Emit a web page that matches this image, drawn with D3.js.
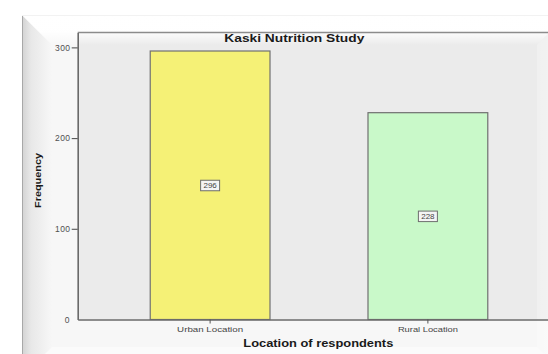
<!DOCTYPE html>
<html>
<head>
<meta charset="utf-8">
<script src="https://cdn.jsdelivr.net/npm/d3@7/dist/d3.min.js"></script>
<style>
  html, body { margin: 0; padding: 0; background: #ffffff; }
  svg { display: block; }
  text { font-family: "Liberation Sans", Arial, sans-serif; }
</style>
</head>
<body>
<svg id="chart" width="548" height="354"></svg>
<script>
// Chart data
const categories = ["Urban Location", "Rural Location"];
const frequencies = [296, 228];
const barColors = ["#f5f176", "#c9f9c9"];
const yTicks = [0, 100, 200, 300];
const chartTitle = "Kaski Nutrition Study";
const xTitle = "Location of respondents";
const yTitle = "Frequency";

const W = 548, H = 354;
const svg = d3.select("#chart");
const defs = svg.append("defs");

// Picture frame (bevelled) bounds
const frame = { x0: 22, y0: 15, x1: 567, y1: 377, bevel: 30 };
// Plot area
const plot = { left: 77.7, right: 560.3, top: 32.5, bottom: 319.5 };

const x = d3.scaleBand()
  .domain(categories)
  .range([plot.left, plot.right])
  .paddingInner(0.45)
  .paddingOuter(0.333);

const y = d3.scaleLinear()
  .domain([0, 316.4])
  .range([plot.bottom, plot.top]);

// Frame background
svg.append("rect")
  .attr("x", frame.x0).attr("y", frame.y0)
  .attr("width", frame.x1 - frame.x0).attr("height", frame.y1 - frame.y0)
  .attr("fill", "#f7f7f7");

// Plot background
svg.append("rect")
  .attr("x", plot.left).attr("y", plot.top)
  .attr("width", plot.right - plot.left).attr("height", plot.bottom - plot.top)
  .attr("fill", "#ebebeb");

// Bars
svg.append("g").selectAll("rect")
  .data(categories)
  .join("rect")
  .attr("x", d => x(d))
  .attr("y", (d, i) => y(frequencies[i]))
  .attr("width", x.bandwidth())
  .attr("height", (d, i) => y(0) - y(frequencies[i]))
  .attr("fill", (d, i) => barColors[i])
  .attr("stroke", "#707070")
  .attr("stroke-width", 1.2);

// Bevel gradients
const gLeft = defs.append("linearGradient").attr("id", "bevelLeft")
  .attr("x1", 0).attr("x2", 1).attr("y1", 0).attr("y2", 0);
gLeft.append("stop").attr("offset", 0).attr("stop-color", "#d2d2d2");
gLeft.append("stop").attr("offset", 0.3).attr("stop-color", "#e8e8e8");
gLeft.append("stop").attr("offset", 1).attr("stop-color", "#f7f7f7");

const gTop = defs.append("linearGradient").attr("id", "bevelTop")
  .attr("x1", 0).attr("x2", 0).attr("y1", 0).attr("y2", 1);
gTop.append("stop").attr("offset", 0).attr("stop-color", "#ffffff").attr("stop-opacity", 1);
gTop.append("stop").attr("offset", 0.55).attr("stop-color", "#ffffff").attr("stop-opacity", 0.95);
gTop.append("stop").attr("offset", 1).attr("stop-color", "#ffffff").attr("stop-opacity", 0);

const gRight = defs.append("linearGradient").attr("id", "bevelRight")
  .attr("x1", 0).attr("x2", 1).attr("y1", 0).attr("y2", 0);
gRight.append("stop").attr("offset", 0).attr("stop-color", "#ffffff").attr("stop-opacity", 0.25);
gRight.append("stop").attr("offset", 1).attr("stop-color", "#ffffff").attr("stop-opacity", 0.5);

const b = frame.bevel;
const bevel = svg.append("g");
bevel.append("polygon")
  .attr("points", [[frame.x0, frame.y0], [frame.x0 + b, frame.y0 + b], [frame.x0 + b, frame.y1 - b], [frame.x0, frame.y1]].join(" "))
  .attr("fill", "url(#bevelLeft)");
bevel.append("polygon")
  .attr("points", [[frame.x0, frame.y0], [frame.x1, frame.y0], [frame.x1 - b, frame.y0 + b], [frame.x0 + b, frame.y0 + b]].join(" "))
  .attr("fill", "url(#bevelTop)");
bevel.append("polygon")
  .attr("points", [[frame.x1, frame.y0], [frame.x1, frame.y1], [frame.x1 - b, frame.y1 - b], [frame.x1 - b, frame.y0 + b]].join(" "))
  .attr("fill", "url(#bevelRight)");
bevel.append("polygon")
  .attr("points", [[frame.x0, frame.y1], [frame.x0 + b, frame.y1 - b], [frame.x1 - b, frame.y1 - b], [frame.x1, frame.y1]].join(" "))
  .attr("fill", "#ffffff").attr("opacity", 0.5);
bevel.append("line")
  .attr("x1", frame.x0 + 0.5).attr("x2", frame.x0 + 0.5)
  .attr("y1", frame.y0).attr("y2", H)
  .attr("stroke", "#a8a8a8").attr("stroke-width", 1);
bevel.append("line")
  .attr("x1", frame.x0).attr("x2", W)
  .attr("y1", frame.y0 + 0.5).attr("y2", frame.y0 + 0.5)
  .attr("stroke", "#f2f2f2").attr("stroke-width", 1);

// Plot frame lines
svg.append("line")
  .attr("x1", plot.left).attr("x2", plot.right)
  .attr("y1", plot.top).attr("y2", plot.top)
  .attr("stroke", "#8c8c8c").attr("stroke-width", 1.4);

// Y axis
const yAxis = svg.append("g")
  .attr("transform", `translate(${plot.left},0)`)
  .call(d3.axisLeft(y).tickValues(yTicks).tickSize(6).tickPadding(1.5).tickSizeOuter(0));
yAxis.select(".domain").attr("stroke", "#6a6a6a").attr("stroke-width", 1.6);
yAxis.selectAll(".tick line").attr("stroke", "#555").attr("stroke-width", 1.1);
yAxis.selectAll(".tick").filter(d => d === 0).select("line").remove();
yAxis.selectAll(".tick").filter(d => d === 0).select("text").attr("x", -8);
yAxis.selectAll(".tick text")
  .attr("font-size", 8.5).attr("fill", "#505050")
  .attr("letter-spacing", 0.3)
  .attr("font-family", "'Liberation Sans', Arial, sans-serif");

// X axis
const xAxis = svg.append("g")
  .attr("transform", `translate(0,${plot.bottom})`)
  .call(d3.axisBottom(x).tickSize(4).tickPadding(3).tickSizeOuter(0));
xAxis.select(".domain").attr("stroke", "#6a6a6a").attr("stroke-width", 1.6);
xAxis.selectAll(".tick line").attr("stroke", "#555").attr("stroke-width", 1);
xAxis.selectAll(".tick text")
  .attr("font-size", 7.8).attr("fill", "#454545")
  .attr("font-family", "'Liberation Sans', Arial, sans-serif")
  .attr("textLength", (d, i) => [66, 60][i])
  .attr("lengthAdjust", "spacingAndGlyphs");

// Value labels in boxes at mid-bar
const labels = svg.append("g").selectAll("g")
  .data(categories)
  .join("g")
  .attr("transform", (d, i) => `translate(${x(d) + x.bandwidth() / 2},${y(frequencies[i] / 2)})`);
labels.append("rect")
  .attr("x", -9.5).attr("y", -5).attr("width", 19).attr("height", 10.5)
  .attr("fill", "#f4f4f4").attr("stroke", "#6e6e6e").attr("stroke-width", 1);
labels.append("text")
  .attr("text-anchor", "middle").attr("dy", "0.38em")
  .attr("font-size", 8).attr("fill", "#454545")
  .text((d, i) => frequencies[i]);

// Titles
svg.append("text")
  .attr("x", 294.3).attr("y", 42.3)
  .attr("text-anchor", "middle")
  .attr("font-size", 11).attr("font-weight", "bold").attr("fill", "#1a1a1a")
  .attr("textLength", 140).attr("lengthAdjust", "spacingAndGlyphs")
  .text(chartTitle);

svg.append("text")
  .attr("x", (plot.left + plot.right) / 2 - 0.7).attr("y", 347)
  .attr("text-anchor", "middle")
  .attr("font-size", 10).attr("font-weight", "bold").attr("fill", "#1a1a1a")
  .attr("textLength", 150).attr("lengthAdjust", "spacingAndGlyphs")
  .text(xTitle);

svg.append("text")
  .attr("transform", "translate(41.3,180.5) rotate(-90)")
  .attr("text-anchor", "middle")
  .attr("font-size", 9).attr("font-weight", "bold").attr("fill", "#1a1a1a")
  .attr("textLength", 55).attr("lengthAdjust", "spacingAndGlyphs")
  .text(yTitle);
</script>
</body>
</html>
